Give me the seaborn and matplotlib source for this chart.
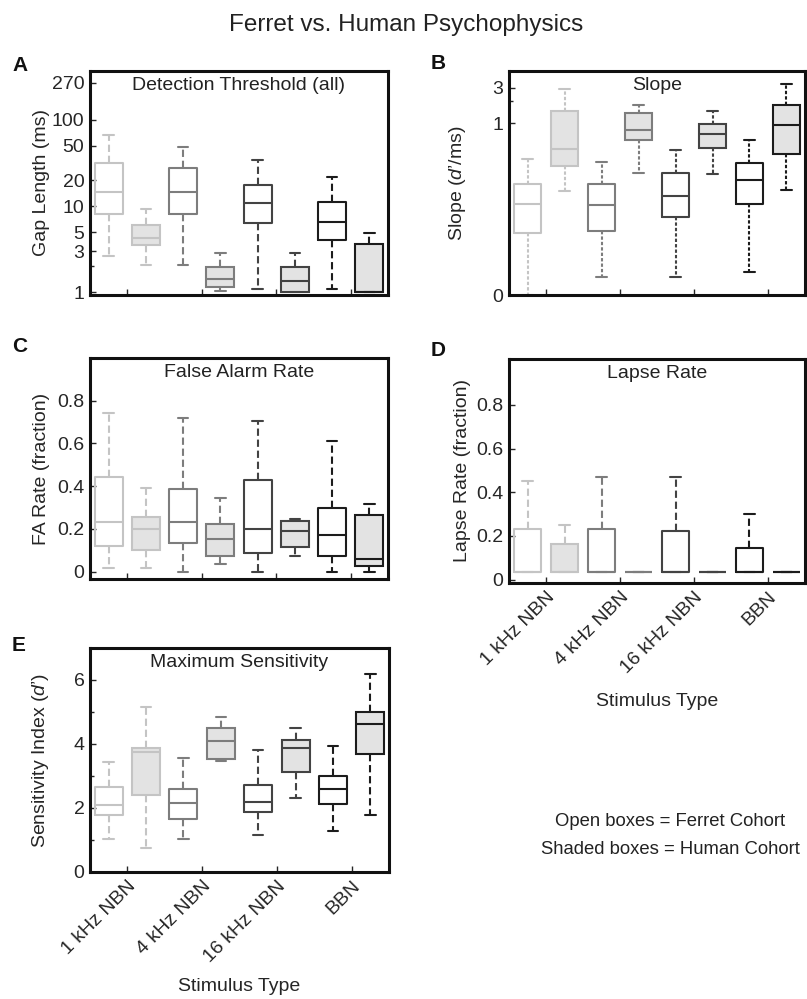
import numpy as np
import pandas as pd
import matplotlib
matplotlib.use('Agg')
import matplotlib.pyplot as plt
from matplotlib.ticker import FixedLocator, NullFormatter
import seaborn as sns

sns.set_style('white')
plt.rcParams['font.family'] = ['Liberation Sans', 'DejaVu Sans']
plt.rcParams['mathtext.fontset'] = 'custom'
plt.rcParams['mathtext.it'] = 'Liberation Sans:italic'
plt.rcParams['mathtext.rm'] = 'Liberation Sans'

stimuli = ['1 kHz NBN', '4 kHz NBN', '16 kHz NBN', 'BBN']
cohorts = ['Ferret', 'Human']
box_order = [f'{s} {c}' for s in stimuli for c in cohorts]
edge_colors = ['#c4c4c4', '#7d7d7d', '#434343', '#1c1c1c']
human_fill = '#e3e3e3'

# five-number summaries per box (ferret, human for each stimulus)
# rows: lower whisker, q1, median, q3, upper whisker
threshold = [
    [2.66, 2.09, 2.09, 1.03, 1.10, 1.00, 1.10, 1.00],
    [8.1, 3.54, 8.2, 1.16, 6.37, 1.00, 4.08, 1.00],
    [14.4, 4.27, 14.7, 1.43, 10.9, 1.37, 6.47, 1.00],
    [32.0, 6.09, 28.0, 1.95, 17.7, 1.95, 11.3, 3.64],
    [67.0, 9.25, 49.0, 2.83, 33.9, 2.83, 21.5, 4.92],
]
slope = [
    [0.005, 0.124, 0.0088, 0.216, 0.0086, 0.206, 0.0103, 0.127],
    [0.034, 0.269, 0.036, 0.593, 0.056, 0.459, 0.083, 0.39],
    [0.084, 0.449, 0.081, 0.80, 0.105, 0.72, 0.174, 0.95],
    [0.154, 1.46, 0.151, 1.37, 0.215, 0.98, 0.289, 1.74],
    [0.327, 2.83, 0.298, 1.73, 0.436, 1.44, 0.593, 3.40],
]
fa_rate = [
    [0.017, 0.017, 0.0, 0.036, 0.0, 0.075, 0.0, 0.0],
    [0.119, 0.103, 0.134, 0.075, 0.089, 0.115, 0.075, 0.025],
    [0.234, 0.198, 0.234, 0.153, 0.198, 0.190, 0.172, 0.059],
    [0.441, 0.257, 0.385, 0.221, 0.429, 0.235, 0.296, 0.267],
    [0.741, 0.390, 0.720, 0.346, 0.703, 0.246, 0.610, 0.318],
]
lapse_rate = [
    [0.034, 0.034, 0.034, 0.034, 0.034, 0.034, 0.034, 0.034],
    [0.034, 0.034, 0.034, 0.034, 0.034, 0.034, 0.034, 0.034],
    [0.034, 0.034, 0.034, 0.034, 0.034, 0.034, 0.034, 0.034],
    [0.230, 0.163, 0.230, 0.034, 0.221, 0.034, 0.143, 0.034],
    [0.453, 0.248, 0.471, 0.034, 0.471, 0.034, 0.302, 0.034],
]
sensitivity = [
    [1.02, 0.76, 1.02, 3.47, 1.16, 2.30, 1.29, 1.79],
    [1.77, 2.42, 1.67, 3.54, 1.86, 3.13, 2.14, 3.70],
    [2.09, 3.74, 2.16, 4.09, 2.20, 3.88, 2.58, 4.61],
    [2.66, 3.88, 2.58, 4.51, 2.71, 4.12, 3.01, 4.99],
    [3.44, 5.15, 3.57, 4.83, 3.82, 4.49, 3.94, 6.18],
]


def draw_boxes(ax, summary, log=False, dash=(0, (3.5, 1.8))):
    for i, name in enumerate(box_order):
        vals = [row[i] for row in summary]
        kw = dict(order=box_order, width=0.75, whis=(0, 100), linewidth=1.5,
                  saturation=1, capwidths=0.28, ax=ax,
                  whiskerprops={'linestyle': dash})
        if log:
            kw['log_scale'] = True
        if i % 2 == 0:
            sns.boxplot(x=[name] * 5, y=vals, color=edge_colors[i // 2], fill=False, **kw)
        else:
            sns.boxplot(x=[name] * 5, y=vals, color=human_fill,
                        linecolor=edge_colors[i // 2], **kw)


def style_axes(ax, title, ylabel, yticks, ylabels, minor=None, xpad=None):
    ax.set_xlim(-0.5, 7.5)
    ax.set_xticks([0.5, 2.5, 4.5, 6.5])
    if xpad is not None:
        ax.set_xticklabels(stimuli, rotation=45, ha='right', rotation_mode='anchor')
        ax.set_xlabel('Stimulus Type', fontsize=14, labelpad=xpad)
    else:
        ax.set_xticklabels([])
        ax.set_xlabel('')
    ax.yaxis.set_major_locator(FixedLocator(yticks))
    ax.set_yticklabels(ylabels)
    ax.yaxis.set_minor_locator(FixedLocator(minor or []))
    ax.yaxis.set_minor_formatter(NullFormatter())
    ax.tick_params(axis='both', which='major', direction='in', length=4,
                   width=1, labelsize=14, pad=4, left=True, bottom=True)
    ax.tick_params(axis='y', which='minor', direction='in', length=3, width=1, left=True)
    ax.set_ylabel(ylabel, fontsize=14)
    for sp in ax.spines.values():
        sp.set_visible(True)
        sp.set_linewidth(2.2)
        sp.set_color('#111111')
    ax.text(0.5, 0.935, title, transform=ax.transAxes, ha='center', va='center',
            fontsize=14, color='#222222')


fig = plt.figure(figsize=(8.07, 9.99), dpi=100)
W, H = 807.0, 999.0


def add_ax(left, top, right, bottom):
    return fig.add_axes([left / W, 1 - bottom / H, (right - left) / W, (bottom - top) / H])


axA = add_ax(90, 71, 388, 295)
axB = add_ax(509, 71, 805, 295)
axC = add_ax(90, 358, 388, 579)
axD = add_ax(509, 359, 805, 583)
axE = add_ax(90, 648, 389, 872)

draw_boxes(axA, threshold, log=True)
axA.set_ylim(0.93, 370)
style_axes(axA, 'Detection Threshold (all)', 'Gap Length (ms)',
           [1, 3, 5, 10, 20, 50, 100, 270], ['1', '3', '5', '10', '20', '50', '100', '270'],
           minor=[2])

draw_boxes(axB, slope, log=True, dash=(0, (1.6, 1.0)))
axB.set_ylim(0.005, 5)
style_axes(axB, 'Slope', r"Slope ($\mathit{d}$’/ms)", [0.005, 1, 3], ['0', '1', '3'], minor=[2])

draw_boxes(axC, fa_rate)
axC.set_ylim(-0.035, 1.0)
style_axes(axC, 'False Alarm Rate', 'FA Rate (fraction)',
           [0, 0.2, 0.4, 0.6, 0.8], ['0', '0.2', '0.4', '0.6', '0.8'])

draw_boxes(axD, lapse_rate)
axD.set_ylim(-0.016, 1.01)
style_axes(axD, 'Lapse Rate', 'Lapse Rate (fraction)',
           [0, 0.2, 0.4, 0.6, 0.8], ['0', '0.2', '0.4', '0.6', '0.8'], xpad=12)

draw_boxes(axE, sensitivity)
axE.set_ylim(0, 7)
style_axes(axE, 'Maximum Sensitivity', r"Sensitivity Index ($\mathit{d}$’)",
           [0, 2, 4, 6], ['0', '2', '4', '6'], minor=[1, 3, 5], xpad=9)

for ax, xl in [(axA, -0.134), (axC, -0.134), (axE, -0.130), (axB, -0.1395), (axD, -0.128)]:
    ax.yaxis.set_label_coords(xl, 0.5)

fig.text(0.503, 1 - 25 / H, 'Ferret vs. Human Psychophysics', ha='center', va='center',
         fontsize=17.5, color='#222222')
for letter, x, y in [('A', 12, 56), ('B', 431, 54), ('C', 12, 337), ('D', 431, 341), ('E', 12, 636)]:
    fig.text(x / W, 1 - y / H, letter, ha='left', va='top', fontsize=15,
             fontweight='bold', color='#111111')
fig.text(670 / W, 1 - 822 / H, 'Open boxes = Ferret Cohort', ha='center', va='center',
         fontsize=13.3, color='#222222')
fig.text(670 / W, 1 - 849 / H, 'Shaded boxes = Human Cohort', ha='center', va='center',
         fontsize=13.3, color='#222222')

fig.savefig('out.png', dpi=100)
